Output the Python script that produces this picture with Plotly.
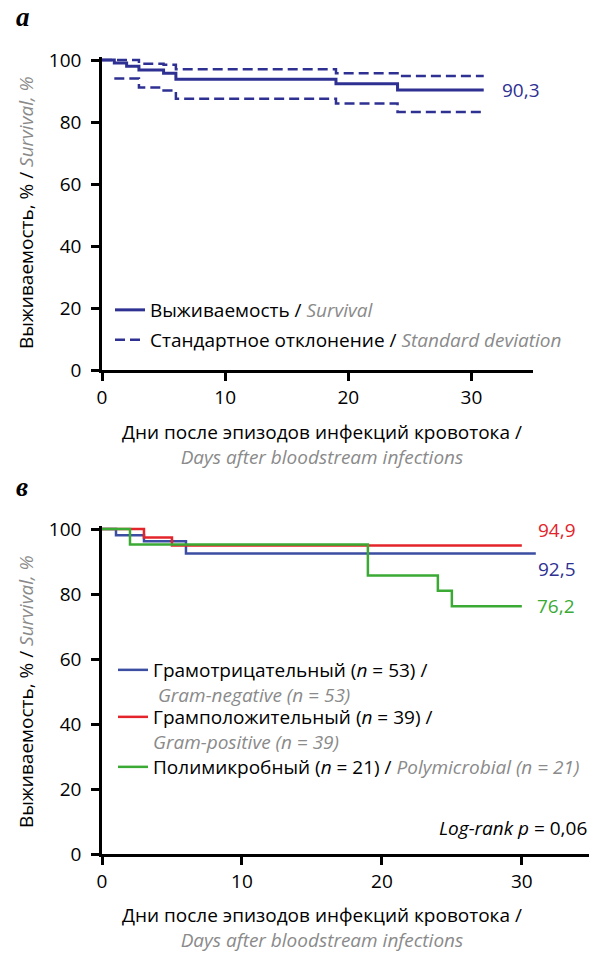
import plotly.graph_objects as go

W, H = 589, 955

# ---------------- Panel a data ----------------
surv_days = [0, 1, 2, 3, 5, 6, 19, 24, 31]
surv_vals = [100, 99.0, 98.0, 96.8, 95.7, 93.8, 92.3, 90.3, 90.3]
sd_up_days = [0, 3, 5, 6, 19, 24, 31]
sd_up_vals = [100, 98.8, 98.5, 97.0, 95.7, 94.8, 94.8]
sd_lo_days = [1, 3, 5, 6, 19, 24, 31]
sd_lo_vals = [94.0, 91.1, 90.2, 87.5, 86.0, 83.2, 83.2]

# ---------------- Panel b data ----------------
neg_days = [0, 1, 3, 6, 31]
neg_vals = [100, 98.1, 96.2, 92.5, 92.5]
pos_days = [0, 3, 5, 30]
pos_vals = [100, 97.4, 94.9, 94.9]
poly_days = [0, 2, 19, 24, 25, 30]
poly_vals = [100, 95.2, 85.7, 81.0, 76.2, 76.2]

x_ticks = [0, 10, 20, 30]
y_ticks = [0, 20, 40, 60, 80, 100]

FONT = "Open Sans"
FS = 19
GRAY = "#8a8a8a"
BLUE_A = "#2e3192"
BLUE_B = "#3b4ea2"
RED = "#e3242b"
GREEN = "#3aaa35"


def px(x):
    return x / W


def py(y):
    return 1 - y / H


def gray(t):
    return "<span style='color:" + GRAY + "'><i>" + t + "</i></span>"


def black(t):
    return "<span style='color:#000000'>" + t + "</span>"


fig = go.Figure()

# Panel a traces
fig.add_trace(go.Scatter(
    x=surv_days, y=surv_vals, mode="lines", line=dict(shape="hv", color=BLUE_A, width=3),
    name="Выживаемость / " + gray("Survival"), showlegend=True,
    xaxis="x", yaxis="y", legend="legend"))
fig.add_trace(go.Scatter(
    x=sd_up_days, y=sd_up_vals, mode="lines",
    line=dict(shape="hv", color=BLUE_A, width=2.5, dash="10px,5px"),
    name="Стандартное отклонение / " + gray("Standard deviation"), showlegend=True,
    xaxis="x", yaxis="y", legend="legend2", legendgroup="sd"))
fig.add_trace(go.Scatter(
    x=sd_lo_days, y=sd_lo_vals, mode="lines",
    line=dict(shape="hv", color=BLUE_A, width=2.5, dash="10px,5px"),
    showlegend=False, xaxis="x", yaxis="y", legend="legend2", legendgroup="sd"))

# Panel b traces
fig.add_trace(go.Scatter(
    x=neg_days, y=neg_vals, mode="lines", line=dict(shape="hv", color=BLUE_B, width=2.5),
    name="Грамотрицательный (<i>n</i> = 53) /<br> " + gray("Gram-negative (n = 53)"), showlegend=True,
    xaxis="x2", yaxis="y2", legend="legend3"))
fig.add_trace(go.Scatter(
    x=pos_days, y=pos_vals, mode="lines", line=dict(shape="hv", color=RED, width=2.5),
    name="Грамположительный (<i>n</i> = 39) /<br>" + gray("Gram-positive (n = 39)"), showlegend=True,
    xaxis="x2", yaxis="y2", legend="legend4"))
fig.add_trace(go.Scatter(
    x=poly_days, y=poly_vals, mode="lines", line=dict(shape="hv", color=GREEN, width=2.5),
    name="Полимикробный (<i>n</i> = 21) / " + gray("Polymicrobial (n = 21)"), showlegend=True,
    xaxis="x2", yaxis="y2", legend="legend5"))

axis_common = dict(
    showline=True, linecolor="black", linewidth=2.5, ticks="outside", ticklen=8,
    tickwidth=3, tickcolor="black", showgrid=False, zeroline=False, automargin=False,
    tickfont=dict(family=FONT, size=FS, color="black"),
)


def leg(xp, ytop):
    return dict(x=px(xp), y=py(ytop), xanchor="left", yanchor="top", bgcolor="rgba(0,0,0,0)",
                font=dict(family=FONT, size=FS, color="black"), itemwidth=30,
                valign="top", traceorder="normal", visible=True)


fig.update_layout(
    width=W, height=H, margin=dict(l=0, r=0, t=0, b=0, pad=0, autoexpand=False),
    paper_bgcolor="white", plot_bgcolor="white", showlegend=True,
    font=dict(family=FONT, size=FS, color="black"),
    xaxis=dict(domain=[px(102), px(533)], range=[0, 35], anchor="y", tickvals=x_ticks, **axis_common),
    yaxis=dict(domain=[py(370), py(370 - 101 * 3.1)], range=[0, 101], anchor="x", tickvals=y_ticks,
               ticklabelstandoff=6, **axis_common),
    xaxis2=dict(domain=[px(102), 1], range=[0, 34.8], anchor="y2", tickvals=x_ticks, **axis_common),
    yaxis2=dict(domain=[py(854), py(854 - 101 * 3.25)], range=[0, 101], anchor="x2", tickvals=y_ticks,
                ticklabelstandoff=6, **axis_common),
    legend=leg(110, 291),
    legend2=leg(110, 321),
    legend3=leg(113, 651),
    legend4=leg(113, 698),
    legend5=leg(113, 748),
)

ann = []
# Panel letters
ann.append(dict(text="<b><i>а</i></b>", x=px(14), y=1, xref="paper", yref="paper",
                xanchor="left", yanchor="top", showarrow=False,
                font=dict(family="Liberation Serif", size=27, color="black")))
ann.append(dict(text="<b><i>в</i></b>", x=px(14), y=py(470), xref="paper", yref="paper",
                xanchor="left", yanchor="top", showarrow=False,
                font=dict(family="Liberation Serif", size=27, color="black")))

ytitle = black("Выживаемость, % / ") + gray("Survival, %")
for yc in (213, 692):
    ann.append(dict(text=ytitle, x=px(26), y=py(yc), xref="paper", yref="paper",
                    textangle=-90, showarrow=False, xanchor="center", yanchor="middle",
                    font=dict(family=FONT, size=FS, color="black")))

xtitle = "Дни после эпизодов инфекций кровотока /<br>" + gray("Days after bloodstream infections")
ann.append(dict(text=xtitle, x=px(322), y=py(444), xref="paper", yref="paper",
                showarrow=False, xanchor="center", yanchor="middle",
                font=dict(family=FONT, size=FS, color="black")))
ann.append(dict(text=xtitle, x=px(322), y=0, xref="paper", yref="paper",
                showarrow=False, xanchor="center", yanchor="bottom",
                font=dict(family=FONT, size=FS, color="black")))


def fmt(v):
    return ("%.1f" % v).replace(".", ",")


# End labels
ann.append(dict(text=fmt(surv_vals[-1]), x=surv_days[-1], y=surv_vals[-1], xref="x", yref="y",
                xanchor="left", yanchor="middle", xshift=16, showarrow=False,
                font=dict(family=FONT, size=FS, color=BLUE_A)))
ann.append(dict(text=fmt(pos_vals[-1]), x=pos_days[-1], y=pos_vals[-1], xref="x2", yref="y2",
                xanchor="left", yanchor="middle", xshift=14, yshift=16, showarrow=False,
                font=dict(family=FONT, size=FS, color=RED)))
ann.append(dict(text=fmt(neg_vals[-1]), x=neg_days[-1], y=neg_vals[-1], xref="x2", yref="y2",
                xanchor="left", yanchor="middle", xshift=0, yshift=-16, showarrow=False,
                font=dict(family=FONT, size=FS, color=BLUE_A)))
ann.append(dict(text=fmt(poly_vals[-1]), x=poly_days[-1], y=poly_vals[-1], xref="x2", yref="y2",
                xanchor="left", yanchor="middle", xshift=13, showarrow=False,
                font=dict(family=FONT, size=FS, color=GREEN)))

ann.append(dict(text="<i>Log-rank p</i> = 0,06", x=1, y=py(828), xref="paper", yref="paper",
                xanchor="right", yanchor="middle", showarrow=False,
                font=dict(family=FONT, size=FS, color="black")))

fig.update_layout(annotations=ann)

fig.write_html("out.html")
